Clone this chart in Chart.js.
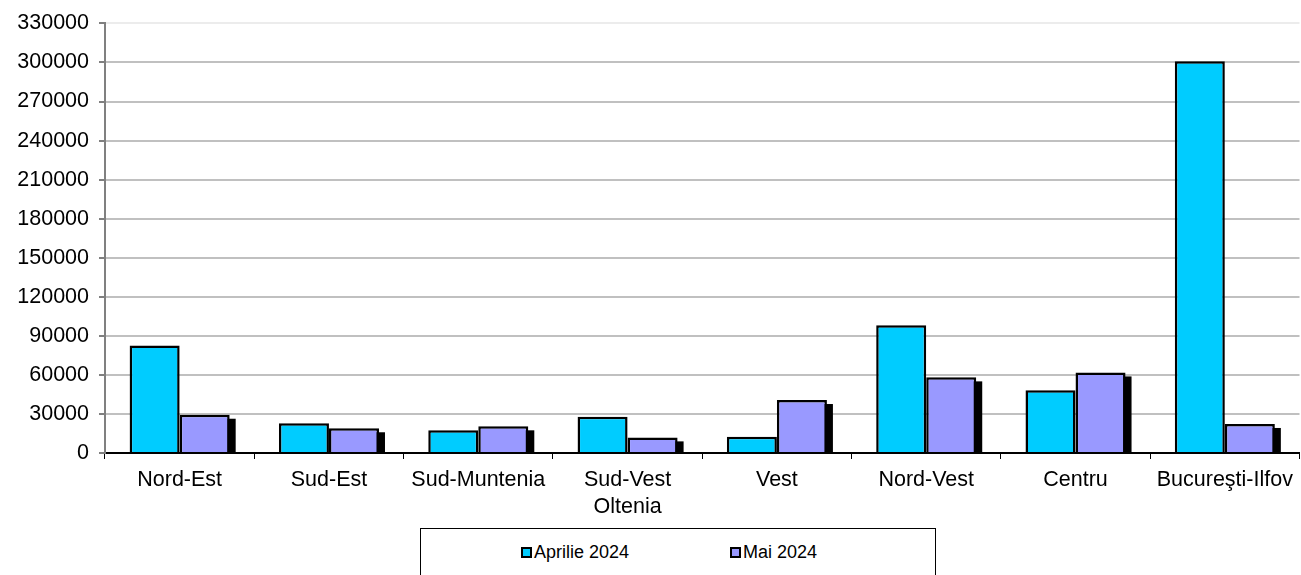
<!DOCTYPE html>
<html lang="ro">
<head>
  <meta charset="UTF-8">
  <title>Aprilie - Mai 2024 pe regiuni</title>
  <script src="https://cdn.jsdelivr.net/npm/chart.js"></script>
  <style>
    body {
      margin: 0;
      background: #ffffff;
      font-family: 'Liberation Sans', Arial, sans-serif;
    }
    .wrap {
      position: relative;
      width: 1301px;
      height: 575px;
      overflow: hidden;
    }
    .legend {
      position: absolute;
      left: 420px;
      top: 528px;
      width: 514px;
      height: 60px;
      border: 1px solid #000;
      background: #fff;
      font-size: 18px;
      color: #000;
    }
    .legend .item {
      position: absolute;
      top: 13px;
      white-space: nowrap;
      display: flex;
      align-items: center;
    }
    .legend .sw {
      width: 7px;
      height: 7px;
      border: 2px solid #000;
      margin-right: 2px;
    }
  </style>
</head>
<body>
  <div class="wrap">
    <canvas id="chart" width="1301" height="575"></canvas>
    <div class="legend" id="legend"></div>
  </div>

  <script>
    const regions = ['Nord-Est', 'Sud-Est', 'Sud-Muntenia', ['Sud-Vest', 'Oltenia'], 'Vest', 'Nord-Vest', 'Centru', 'Bucureşti-Ilfov'];
    const seriesNames = ['Aprilie 2024', 'Mai 2024'];
    const aprilie = [82500, 22800, 17500, 27900, 12500, 98200, 48300, 301000];
    const mai = [29400, 19000, 20500, 12000, 40700, 58100, 61900, 22300];
    const seriesColors = ['#00ccff', '#9999ff'];
    const yMax = 330000;
    const yStep = 30000;

    const axisFont = { family: "'Liberation Sans', Arial, sans-serif", size: 21.5, lineHeight: 1.25 };

    // black drop shadow, only the right-hand series shows it
    const barShadow = {
      id: 'barShadow',
      beforeDatasetsDraw(chart) {
        const ctx = chart.ctx;
        const base = chart.scales.y.getPixelForValue(0);
        const last = chart.data.datasets.length - 1;
        ctx.save();
        ctx.fillStyle = '#000';
        chart.getDatasetMeta(last).data.forEach(bar => {
          const left = bar.x - bar.width / 2 + 6;
          const top = bar.y + 4;
          if (top < base) ctx.fillRect(left, top, bar.width, base - top);
        });
        ctx.restore();
      }
    };

    new Chart(document.getElementById('chart'), {
      type: 'bar',
      data: {
        labels: regions,
        datasets: [
          { label: seriesNames[0], data: aprilie, backgroundColor: seriesColors[0], borderColor: '#000', borderWidth: 2.5, borderSkipped: 'bottom' },
          { label: seriesNames[1], data: mai, backgroundColor: seriesColors[1], borderColor: '#000', borderWidth: 2.5, borderSkipped: 'bottom' }
        ]
      },
      options: {
        responsive: false,
        animation: false,
        layout: { padding: { top: 23, right: 1, left: 0, bottom: 0 } },
        datasets: { bar: { categoryPercentage: 0.67, barPercentage: 1 } },
        plugins: {
          legend: { display: false },
          tooltip: { enabled: false }
        },
        scales: {
          x: {
            offset: true,
            grid: { offset: true, drawOnChartArea: false, drawTicks: true, tickLength: 6, tickColor: '#000', lineWidth: 1 },
            border: { color: '#000', width: 2 },
            ticks: {
              color: '#000',
              font: axisFont,
              maxRotation: 0,
              autoSkip: false,
              padding: 8
            },
            afterFit(scale) { scale.height = 122; }
          },
          y: {
            min: 0,
            max: yMax,
            ticks: {
              stepSize: yStep,
              color: '#000',
              font: axisFont,
              padding: 10,
              callback: v => String(v)
            },
            grid: {
              color: c => (c.tick && c.tick.value === yMax ? '#ececec' : '#c0c0c0'),
              lineWidth: 2,
              tickColor: '#000',
              tickLength: 6,
              tickWidth: 1
            },
            border: { color: '#808080', width: 2 },
            afterFit(scale) { scale.width = 105; }
          }
        }
      },
      plugins: [barShadow]
    });

    const legend = document.getElementById('legend');
    const legendLeft = [100, 309];
    seriesNames.forEach((name, i) => {
      const item = document.createElement('div');
      item.className = 'item';
      item.style.left = legendLeft[i] + 'px';
      const sw = document.createElement('span');
      sw.className = 'sw';
      sw.style.background = seriesColors[i];
      item.appendChild(sw);
      item.appendChild(document.createTextNode(name));
      legend.appendChild(item);
    });
  </script>
</body>
</html>
